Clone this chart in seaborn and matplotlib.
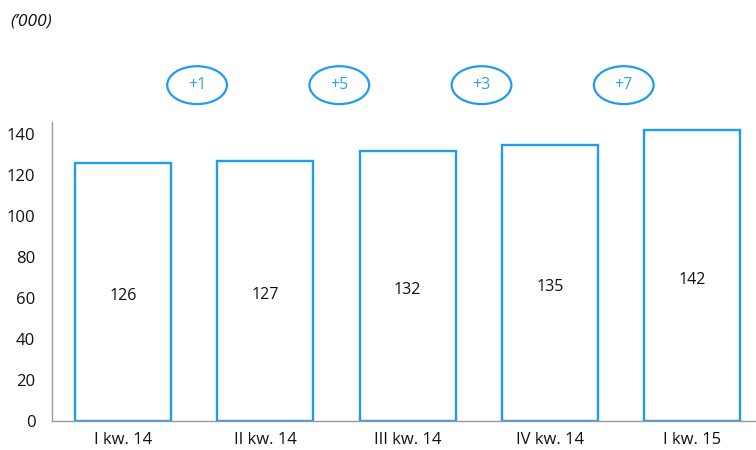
import matplotlib
matplotlib.use("Agg")
import matplotlib.pyplot as plt
import seaborn as sns
from matplotlib.patches import Ellipse

# Data
quarters = ["I kw. 14", "II kw. 14", "III kw. 14", "IV kw. 14", "I kw. 15"]
values = [126, 127, 132, 135, 142]
changes = ["+1", "+5", "+3", "+7"]

blue = "#1f9cf0"
text_blue = "#2aa6e6"

sns.set_style("white")
plt.rcParams["font.family"] = ["Open Sans", "DejaVu Sans"]

fig = plt.figure(figsize=(7.56, 4.5), dpi=100)
ax = fig.add_axes([52 / 756, 29 / 450, 704 / 756, 299 / 450])

sns.barplot(x=quarters, y=values, color=blue, fill=False, width=0.675,
            linewidth=1.7, ax=ax)

# value labels in the middle of each bar
for i, v in enumerate(values):
    ax.text(i, v / 2 - 2, str(v), ha="center", va="center", fontsize=11.5, color="#111111")

# change bubbles between bars, above the plot area
for i, c in enumerate(changes):
    xc = i + 0.52
    yc = 164
    ax.add_patch(Ellipse((xc, yc), 0.42, 18.5, fill=False, edgecolor=blue,
                         linewidth=1.6, clip_on=False))
    ax.text(xc, yc, c, ha="center", va="center", fontsize=11.5, color=text_blue,
            clip_on=False)

ax.set_xlim(-0.5, 4.45)
ax.set_ylim(0, 146)
ax.set_yticks(range(0, 141, 20))
ax.tick_params(axis="both", length=0, labelsize=12, colors="#111111")
ax.tick_params(axis="x", pad=8)
ax.tick_params(axis="y", pad=12)
for s in ["top", "right"]:
    ax.spines[s].set_visible(False)
for s in ["left", "bottom"]:
    ax.spines[s].set_color("#999999")
    ax.spines[s].set_linewidth(1)

fig.text(10 / 756, 1 - 21 / 450, "(’000)", fontsize=12.5, style="italic",
         ha="left", va="center", color="#111111")

fig.savefig("out.png", dpi=100)
